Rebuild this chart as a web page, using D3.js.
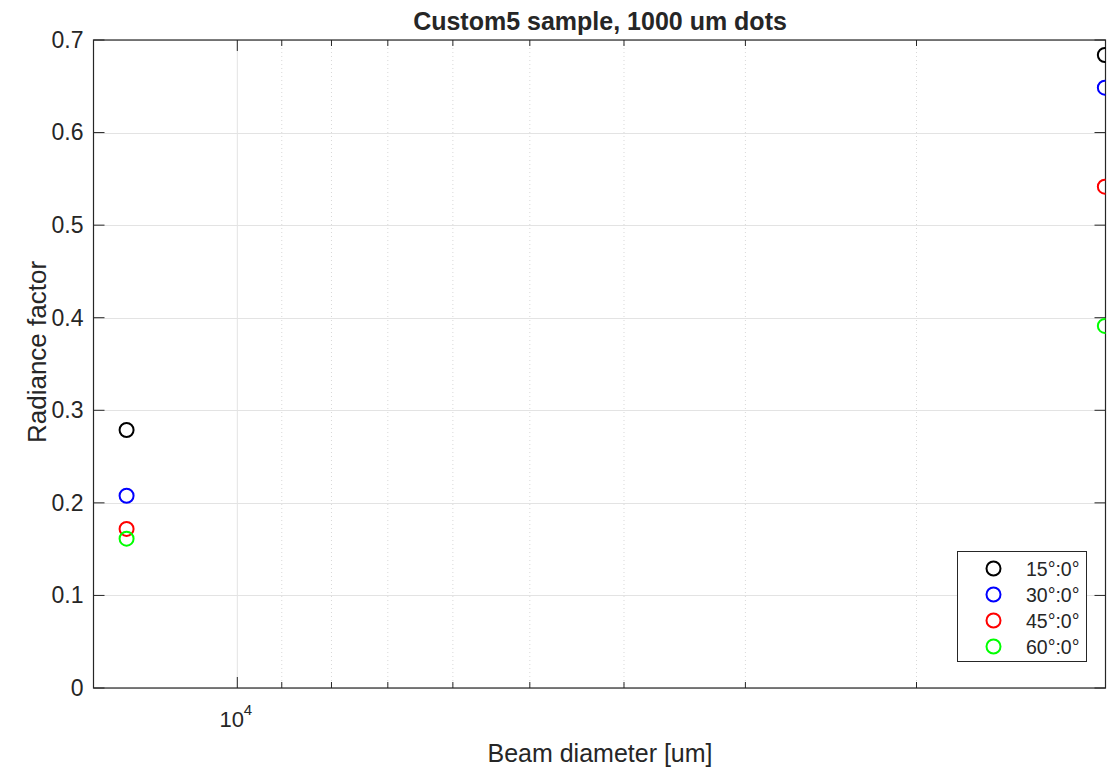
<!DOCTYPE html>
<html>
<head>
<meta charset="utf-8">
<script src="https://cdn.jsdelivr.net/npm/d3@7"></script>
<style>
body { margin: 0; background: #fff; }
text { font-family: "Liberation Sans", Arial, sans-serif; fill: #262626; }
</style>
</head>
<body>
<svg id="chart" width="1107" height="769"></svg>
<script>

/////// Data ///////

var beamDiameter = [13000, 1280];
var angle15 = [0.2787, 0.6838];
var angle30 = [0.2077, 0.6485];
var angle45 = [0.1718, 0.5416];
var angle60 = [0.1613, 0.3911];
var seriesNames = ["15°:0°", "30°:0°", "45°:0°", "60°:0°"];
var seriesColors = ["#000000", "#0000ff", "#ff0000", "#00ff00"];
var xMajorTicks = [10000];
var xMinorTicks = [2000, 3000, 4000, 5000, 6000, 7000, 8000, 9000];
var yTicks = [0, 0.1, 0.2, 0.3, 0.4, 0.5, 0.6, 0.7];

var allSeries = [angle15, angle30, angle45, angle60];

/////// Layout ///////

var svg = d3.select("#chart"),
margin = {top: 40, right: 1.5, bottom: 81, left: 93.5},
width = +svg.attr("width") - margin.left - margin.right,
height = +svg.attr("height") - margin.top - margin.bottom;

var g = svg.append("g")
.attr("transform", "translate(" + margin.left + "," + margin.top + ")");

// x axis is log and reversed (MATLAB XDir reverse)
var x = d3.scaleLog().domain([14060, 1278]).range([0, width]),
y = d3.scaleLinear().domain([0, 0.7]).range([height, 0]);

svg.append("defs").append("clipPath")
.attr("id", "clip")
.append("rect")
.attr("width", width)
.attr("height", height);

///////  Grid ///////

g.selectAll(".ygrid").data(yTicks).enter().append("line")
.attr("x1", 0).attr("x2", width)
.attr("y1", function(d) { return Math.round(y(d)) + 0.5; })
.attr("y2", function(d) { return Math.round(y(d)) + 0.5; })
.attr("stroke", "#e3e3e3").attr("stroke-width", 1);

g.selectAll(".xgrid").data(xMajorTicks).enter().append("line")
.attr("x1", function(d) { return x(d); }).attr("x2", function(d) { return x(d); })
.attr("y1", 0).attr("y2", height)
.attr("stroke", "#e3e3e3").attr("stroke-width", 1);

g.selectAll(".xminor").data(xMinorTicks).enter().append("line")
.attr("x1", function(d) { return x(d); }).attr("x2", function(d) { return x(d); })
.attr("y1", 0).attr("y2", height)
.attr("stroke", "#d8d8d8").attr("stroke-width", 1)
.attr("stroke-dasharray", "1,3");

///////  Axes ///////

var yAxis = d3.axisLeft(y).tickValues(yTicks).tickSize(0).tickPadding(10)
.tickFormat(function(d) { return d === 0 ? "0" : d3.format(".1f")(d); });

var yg = g.append("g").call(yAxis);
yg.select(".domain").remove();
yg.selectAll("text").attr("font-size", "23px").attr("fill", "#262626");

// tick marks on all four sides
var tickCol = "#262626";
g.selectAll(".ytickL").data(yTicks).enter().append("line")
.attr("x1", 0).attr("x2", 11)
.attr("y1", function(d) { return y(d); }).attr("y2", function(d) { return y(d); })
.attr("stroke", tickCol);
g.selectAll(".ytickR").data(yTicks).enter().append("line")
.attr("x1", width - 11).attr("x2", width)
.attr("y1", function(d) { return y(d); }).attr("y2", function(d) { return y(d); })
.attr("stroke", tickCol);

var xAxis = d3.axisBottom(x).tickValues(xMajorTicks).tickSize(0).tickPadding(0)
.tickFormat(function() { return ""; });
var xg = g.append("g").attr("transform", "translate(0," + height + ")").call(xAxis);
xg.select(".domain").remove();

xg.selectAll(".tick").append("text")
.attr("y", 39).attr("x", -6)
.attr("text-anchor", "middle")
.attr("font-size", "22px")
.attr("fill", "#262626")
.text("10");
xg.selectAll(".tick").append("text")
.attr("y", 27).attr("x", 6)
.attr("text-anchor", "start")
.attr("font-size", "15px")
.attr("fill", "#262626")
.text("4");

g.selectAll(".xmajB").data(xMajorTicks).enter().append("line")
.attr("x1", function(d) { return x(d); }).attr("x2", function(d) { return x(d); })
.attr("y1", height - 11).attr("y2", height).attr("stroke", tickCol);
g.selectAll(".xmajT").data(xMajorTicks).enter().append("line")
.attr("x1", function(d) { return x(d); }).attr("x2", function(d) { return x(d); })
.attr("y1", 0).attr("y2", 11).attr("stroke", tickCol);
g.selectAll(".xminB").data(xMinorTicks).enter().append("line")
.attr("x1", function(d) { return x(d); }).attr("x2", function(d) { return x(d); })
.attr("y1", height - 6).attr("y2", height).attr("stroke", tickCol);
g.selectAll(".xminT").data(xMinorTicks).enter().append("line")
.attr("x1", function(d) { return x(d); }).attr("x2", function(d) { return x(d); })
.attr("y1", 0).attr("y2", 6).attr("stroke", tickCol);

// box
g.append("rect")
.attr("x", 0).attr("y", 0)
.attr("width", width).attr("height", height)
.attr("fill", "none").attr("stroke", tickCol).attr("stroke-width", 1.2);

///////  Data markers ///////

var marks = g.append("g").attr("clip-path", "url(#clip)");

allSeries.forEach(function(vals, i) {
    marks.selectAll(".m" + i).data(vals).enter().append("circle")
    .attr("cx", function(d, j) { return x(beamDiameter[j]); })
    .attr("cy", function(d) { return y(d); })
    .attr("r", 7)
    .attr("fill", "none")
    .attr("stroke", seriesColors[i])
    .attr("stroke-width", 2);
});

///////  Labels ///////

svg.append("text")
.attr("x", 600).attr("y", 30)
.attr("text-anchor", "middle")
.attr("font-size", "25px").attr("font-weight", "bold")
.attr("fill", "#000")
.text("Custom5 sample, 1000 um dots");

svg.append("text")
.attr("x", 600).attr("y", 762)
.attr("text-anchor", "middle")
.attr("font-size", "25px")
.text("Beam diameter [um]");

svg.append("text")
.attr("transform", "translate(46,352) rotate(-90)")
.attr("text-anchor", "middle")
.attr("font-size", "26px")
.text("Radiance factor");

///////  Legend ///////

var legend = svg.append("g").attr("transform", "translate(957.5,551.5)");
legend.append("rect")
.attr("width", 129).attr("height", 110)
.attr("fill", "#fff").attr("stroke", tickCol).attr("stroke-width", 1);

var rows = legend.selectAll(".row").data(seriesNames).enter().append("g")
.attr("transform", function(d, i) { return "translate(0," + (17 + i * 26) + ")"; });
rows.append("circle")
.attr("cx", 36).attr("cy", 0).attr("r", 7)
.attr("fill", "none")
.attr("stroke", function(d, i) { return seriesColors[i]; })
.attr("stroke-width", 2);
rows.append("text")
.attr("x", 122).attr("y", 7)
.attr("text-anchor", "end")
.attr("font-size", "19.5px")
.text(function(d) { return d; });

</script>
</body>
</html>
